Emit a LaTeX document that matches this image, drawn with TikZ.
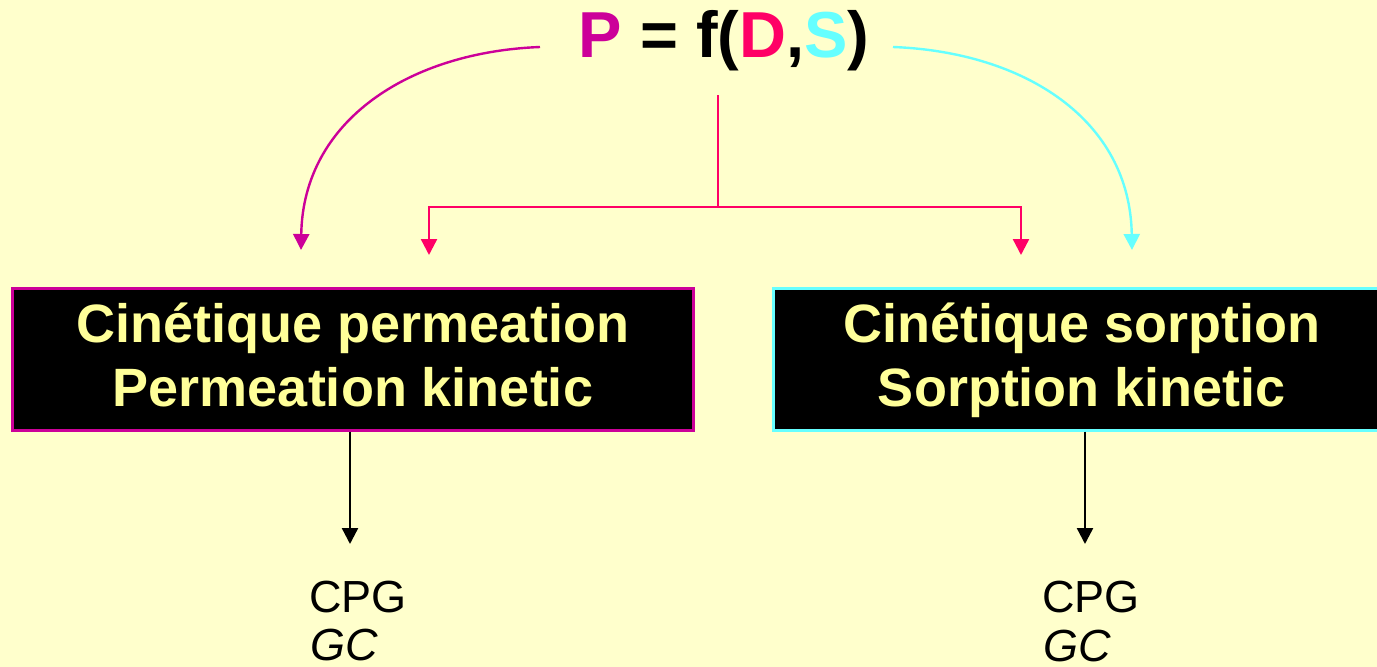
\documentclass[tikz,border=0pt]{standalone}
\usepackage{fontspec}
\setmainfont{Liberation Sans}
\usetikzlibrary{arrows.meta}
\definecolor{paper}{HTML}{FFFFCC}
\definecolor{boxtext}{HTML}{FFFF99}
\definecolor{magP}{HTML}{CC0099}
\definecolor{redD}{HTML}{FF0066}
\definecolor{cyanS}{HTML}{66FFFF}
\tikzset{
  tip/.style={-{Triangle[width=16pt,length=16pt]}},
  link/.style={line width=2.4pt, tip},
  kinbox/.style={fill=black, line width=3pt, inner sep=0pt},
  kintext/.style={inner sep=0pt, text=boxtext, align=center,
    font=\bfseries\fontsize{54}{64}\selectfont},
  note/.style={inner sep=0pt, anchor=base west, font=\fontsize{45}{50}\selectfont}
}
\begin{document}
\begin{tikzpicture}[x=1pt,y=-1pt]
  \fill[paper] (0,0) rectangle (1377,667);
  \useasboundingbox (0,0) rectangle (1377,667);

  % the relation
  \node[inner sep=0pt, anchor=base, font=\bfseries\fontsize{65}{78}\selectfont] (rel) at (724,57)
    {\textcolor{magP}{P} = f(\textcolor{redD}{D},\textcolor{cyanS}{S})};

  % the two methods
  \node[kinbox, draw=magP, minimum width=681pt, minimum height=142pt] (perm) at (352.5,359) {};
  \node[kintext] (permT) at (353,362)
    {Cinétique permeation\strut\\Permeation kinetic\strut};
  \node[kinbox, draw=cyanS, minimum width=610pt, minimum height=142pt] (sorp) at (1078,359) {};
  \node[kintext] (sorpT) at (1082,362)
    {Cinétique sorption\strut\\Sorption kinetic\strut};

  % what each one is measured with
  \node[note] (cpgL) at (309,612) {CPG};
  \node[note] (gcL) at (310,660) {\itshape GC};
  \node[note] (cpgR) at (1042,612) {CPG};
  \node[note] (gcR) at (1043,661) {\itshape GC};

  % connector end points
  \coordinate (pStart) at (540,47);
  \coordinate (sStart) at (893,47);
  \coordinate (dTop) at (718,95);
  \coordinate (dJoin) at (718,207);
  \coordinate (pEnd) at (301,250);
  \coordinate (sEnd) at (1132,250);
  \coordinate (dEndL) at (429,255);
  \coordinate (dEndR) at (1021,255);
  \coordinate (permOut) at (350,544);
  \coordinate (sorpOut) at (1085,544);

  % P and S branches
  \draw[link, draw=magP] (pStart) .. controls (410,52) and (303,120) .. (pEnd);
  \draw[link, draw=cyanS] (sStart) .. controls (1025,52) and (1130,120) .. (sEnd);

  % D branch
  \draw[line width=2.4pt, draw=redD] (dTop) -- (dJoin);
  \draw[link, draw=redD] (dJoin) -| (dEndL);
  \draw[link, draw=redD] (dJoin) -| (dEndR);

  % down to the techniques
  \draw[link] (perm.south -| permOut) -- (permOut);
  \draw[link] (sorp.south -| sorpOut) -- (sorpOut);
\end{tikzpicture}
\end{document}
